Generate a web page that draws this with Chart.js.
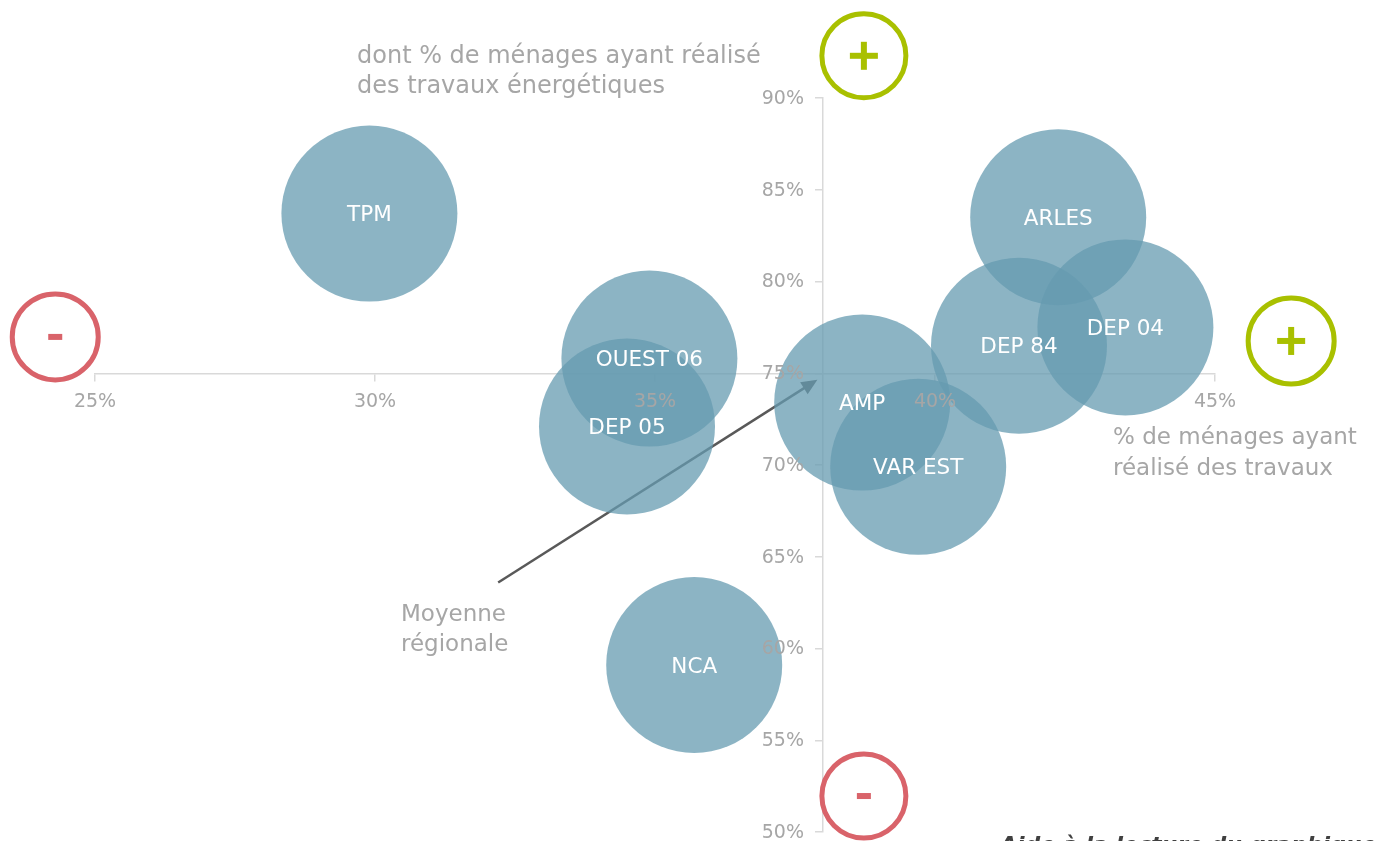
<!DOCTYPE html>
<html>
<head>
<meta charset="utf-8">
<script src="https://cdn.jsdelivr.net/npm/chart.js@4/dist/chart.umd.min.js"></script>
<style>
html,body{margin:0;padding:0;background:#fff;}
canvas{display:block;}
</style>
</head>
<body>
<canvas id="chart" width="1376" height="841"></canvas>
<script>
// territoires
const names=["TPM","ARLES","DEP 04","DEP 84","OUEST 06","DEP 05","AMP","VAR EST","NCA"];
// % de ménages ayant réalisé des travaux
const travaux=[29.9,42.2,43.4,41.5,34.9,34.5,38.7,39.7,35.7];
// dont % ayant réalisé des travaux énergétiques
const energetiques=[83.7,83.5,77.5,76.5,75.8,72.1,73.4,69.9,59.1];
// rayon des bulles
const sizes=[88,88,88,88,88,88,88,88,88];

const xTicks=[25,30,35,40,45];
const yTicks=[50,55,60,65,70,75,80,85,90];

// moyenne régionale (croisement des axes)
const moyX=38;
const moyY=75;

const FONT='"DejaVu Sans",sans-serif';
const GREY="#a6a6a6";
const GREEN="#a9c000";
const RED="#d9636a";

let points=names.map((n,i)=>({x:travaux[i],y:energetiques[i],r:sizes[i]}));

function sign(ctx,cx,cy,r,color,plus){
ctx.save();
ctx.strokeStyle=color;
ctx.lineWidth=5;
ctx.beginPath();
ctx.arc(cx,cy,r,0,Math.PI*2);
ctx.stroke();
ctx.fillStyle=color;
if(plus){
ctx.fillRect(cx-14,cy-3,28,6);
ctx.fillRect(cx-3,cy-14,6,28);
}else{
ctx.fillRect(cx-7,cy-3,14,6);
}
ctx.restore();
}

const deco={
id:"deco",
beforeDatasetsDraw(chart){
let ctx=chart.ctx;
let x=chart.scales.x,y=chart.scales.y;
// flèche vers la moyenne
let x0=x.getPixelForValue(32.2),y0=y.getPixelForValue(63.6);
let x1=x.getPixelForValue(37.9),y1=y.getPixelForValue(74.65);
let a=Math.atan2(y1-y0,x1-x0);
ctx.save();
ctx.strokeStyle="#595959";
ctx.fillStyle="#595959";
ctx.lineWidth=2.5;
ctx.beginPath();
ctx.moveTo(x0,y0);
ctx.lineTo(x1-12*Math.cos(a),y1-12*Math.sin(a));
ctx.stroke();
ctx.beginPath();
ctx.moveTo(x1,y1);
ctx.lineTo(x1-16*Math.cos(a)+7*Math.sin(a),y1-16*Math.sin(a)-7*Math.cos(a));
ctx.lineTo(x1-16*Math.cos(a)-7*Math.sin(a),y1-16*Math.sin(a)+7*Math.cos(a));
ctx.closePath();
ctx.fill();
ctx.restore();
},
afterDatasetsDraw(chart){
let ctx=chart.ctx;
let meta=chart.getDatasetMeta(0);
let x=chart.scales.x,y=chart.scales.y;
ctx.save();
ctx.fillStyle="#fff";
ctx.font="21.5px "+FONT;
ctx.textAlign="center";
ctx.textBaseline="middle";
meta.data.forEach((p,i)=>{
ctx.fillText(names[i],p.x,p.y+2);
});
// graduations
ctx.fillStyle=GREY;
ctx.font="19px "+FONT;
let ay=y.getPixelForValue(moyY),ax=x.getPixelForValue(moyX);
ctx.textAlign="center";
xTicks.forEach(v=>ctx.fillText(v+"%",x.getPixelForValue(v),ay+29));
ctx.textAlign="right";
yTicks.forEach(v=>ctx.fillText(v+"%",ax-19,y.getPixelForValue(v)+1));
ctx.restore();
},
afterDraw(chart){
let ctx=chart.ctx;
let x=chart.scales.x,y=chart.scales.y;
ctx.save();
ctx.fillStyle=GREY;
ctx.font="24px "+FONT;
ctx.textAlign="left";
ctx.textBaseline="alphabetic";
ctx.fillText("dont % de ménages ayant réalisé",357,63);
ctx.fillText("des travaux énergétiques",357,93);
ctx.font="23px "+FONT;
ctx.fillText("% de ménages ayant",1113,444);
ctx.fillText("réalisé des travaux",1113,475);
ctx.fillText("Moyenne",401,621);
ctx.fillText("régionale",401,651);
ctx.fillStyle="#404040";
ctx.font="italic bold 22px "+FONT;
ctx.fillText("Aide à la lecture du graphique",1000,852);
ctx.restore();

sign(ctx,x.getPixelForValue(38.73),y.getPixelForValue(92.3),42,GREEN,true);
sign(ctx,x.getPixelForValue(46.36),y.getPixelForValue(76.76),43,GREEN,true);
sign(ctx,x.getPixelForValue(24.29),y.getPixelForValue(76.98),43,RED,false);
sign(ctx,x.getPixelForValue(38.73),y.getPixelForValue(51.96),42,RED,false);
}
};

new Chart(document.getElementById("chart"),{
type:"bubble",
data:{
datasets:[{
data:points,
backgroundColor:"rgba(102,155,176,0.75)",
borderWidth:0,
hoverBorderWidth:0,
clip:false
}]
},
options:{
responsive:false,
animation:false,
devicePixelRatio:1,
layout:{autoPadding:false,padding:{left:95,right:161,top:98,bottom:9}},
plugins:{legend:{display:false},tooltip:{enabled:false}},
scales:{
x:{
type:"linear",
min:25,max:45,
position:{y:moyY},
afterBuildTicks(s){s.ticks=xTicks.map(v=>({value:v}));},
afterFit(s){s.height=0;},
ticks:{display:false},
grid:{drawOnChartArea:false,drawTicks:true,tickLength:7,color:"#d9d9d9",lineWidth:1.5},
border:{color:"#d9d9d9",width:1.5}
},
y:{
type:"linear",
min:50,max:90,
position:{x:moyX},
afterBuildTicks(s){s.ticks=yTicks.map(v=>({value:v}));},
afterFit(s){s.width=0;},
ticks:{display:false},
grid:{drawOnChartArea:false,drawTicks:true,tickLength:7,color:"#d9d9d9",lineWidth:1.5},
border:{color:"#d9d9d9",width:1.5}
}
}
},
plugins:[deco]
});
</script>
</body>
</html>
